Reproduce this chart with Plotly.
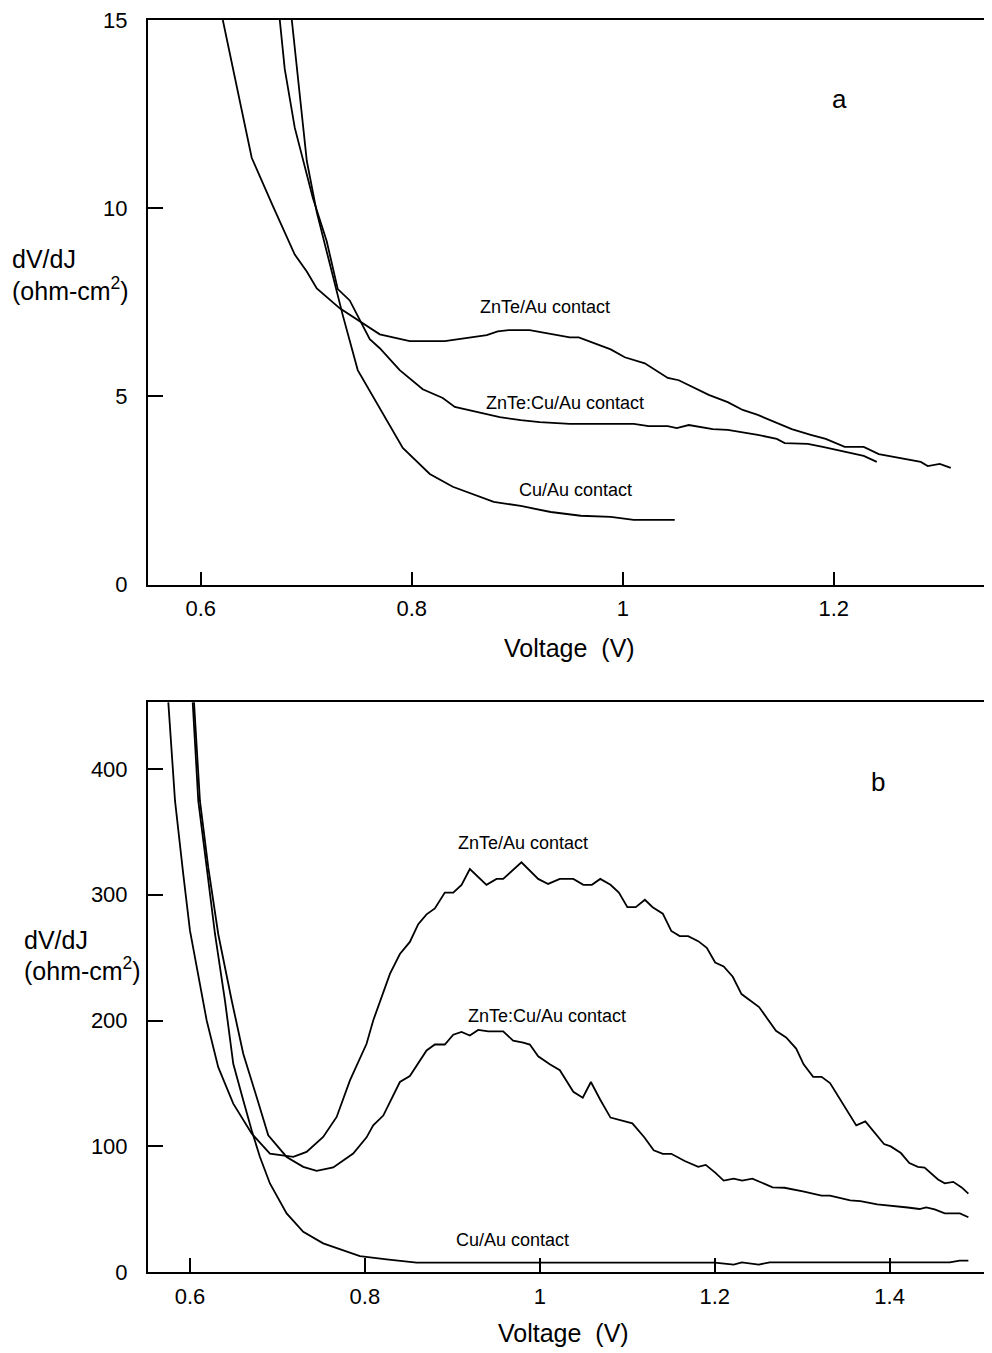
import plotly.graph_objects as go

# ---------------- Panel a data ----------------
a_znte_v = [0.6209, 0.6483, 0.6682, 0.6891, 0.7005, 0.7100, 0.7318, 0.7697, 0.7981, 0.8313,
            0.8711, 0.8815, 0.8919, 0.9118, 0.9498, 0.9583, 0.9886, 1.0019, 1.0209, 1.0427,
            1.0531, 1.0815, 1.0995, 1.1137, 1.1280, 1.1393, 1.1602, 1.1782, 1.1924, 1.2104,
            1.2284, 1.2427, 1.2682, 1.2825, 1.2891, 1.3005, 1.3109]
a_znte_r = [15.0, 11.34, 10.07, 8.77, 8.32, 7.87, 7.34, 6.65, 6.47, 6.47,
            6.63, 6.73, 6.76, 6.76, 6.57, 6.57, 6.25, 6.04, 5.88, 5.49,
            5.43, 5.04, 4.85, 4.64, 4.51, 4.37, 4.13, 3.98, 3.87, 3.66,
            3.66, 3.47, 3.34, 3.26, 3.15, 3.21, 3.10]

a_zncu_v = [0.6749, 0.6796, 0.6891, 0.7062, 0.7194, 0.7299, 0.7412, 0.7602, 0.7697, 0.7886,
            0.8104, 0.8294, 0.8408, 0.8531, 0.8834, 0.9033, 0.9213, 0.9498, 1.0104, 1.0246,
            1.0427, 1.0512, 1.0626, 1.0853, 1.0995, 1.1280, 1.1460, 1.1535, 1.1754, 1.1896,
            1.2104, 1.2284, 1.2408]
a_zncu_r = [15.0, 13.70, 12.14, 10.28, 9.12, 7.85, 7.55, 6.52, 6.28, 5.70,
            5.19, 4.96, 4.72, 4.64, 4.45, 4.37, 4.32, 4.27, 4.27, 4.21,
            4.21, 4.16, 4.24, 4.13, 4.11, 3.98, 3.87, 3.76, 3.74, 3.66,
            3.53, 3.42, 3.26]

a_cu_v = [0.6863, 0.6910, 0.7005, 0.7100, 0.7242, 0.7346, 0.7488, 0.7697, 0.7915, 0.8171,
          0.8389, 0.8777, 0.9033, 0.9318, 0.9602, 0.9886, 1.0104, 1.0493]
a_cu_r = [15.0, 13.81, 11.26, 9.89, 8.32, 7.16, 5.70, 4.69, 3.63, 2.94,
          2.60, 2.20, 2.09, 1.93, 1.83, 1.80, 1.72, 1.72]

# ---------------- Panel b data ----------------
b_znte_v = [0.5752, 0.5829, 0.5923, 0.6000, 0.6191, 0.6323, 0.6495, 0.6705, 0.6914, 0.7181,
            0.7333, 0.7523, 0.7677, 0.7829, 0.8019, 0.8095, 0.8286, 0.8400, 0.8514, 0.8610,
            0.8705, 0.8800, 0.8914, 0.9010, 0.9105, 0.9200, 0.9390, 0.9505, 0.9581, 0.9790,
            0.9981, 1.0095, 1.0229, 1.0383, 1.0498, 1.0595, 1.0691, 1.0808, 1.0904, 1.1001,
            1.1097, 1.1201, 1.1290, 1.1406, 1.1503, 1.1599, 1.1696, 1.1811, 1.1909, 1.2005,
            1.2102, 1.2206, 1.2306, 1.2507, 1.2700, 1.2816, 1.2931, 1.3016, 1.3125, 1.3221,
            1.3318, 1.3530, 1.3618, 1.3722, 1.3935, 1.4012, 1.4128, 1.4225, 1.4322, 1.4399,
            1.4553, 1.4630, 1.4727, 1.4823, 1.4900]
b_znte_r = [453.2, 374.6, 316.4, 271.4, 200.0, 162.9, 133.9, 110.1, 94.2, 91.5,
            95.5, 107.4, 123.3, 152.4, 181.5, 200.0, 237.1, 252.9, 262.5, 276.6,
            284.4, 289.1, 301.7, 301.7, 307.9, 320.5, 307.9, 312.6, 312.6, 325.8,
            312.6, 308.6, 312.6, 312.6, 307.9, 307.9, 312.6, 307.9, 301.7, 290.1,
            290.1, 296.0, 290.1, 285.0, 271.2, 267.1, 267.1, 263.1, 257.8, 246.1,
            243.0, 234.8, 221.0, 210.7, 191.8, 186.5, 177.7, 165.2, 155.2, 155.2,
            150.2, 126.0, 116.6, 119.8, 101.8, 99.9, 94.6, 86.7, 83.6, 83.0,
            73.6, 70.5, 71.7, 67.3, 62.3]

b_zncu_v = [0.6046, 0.6114, 0.6209, 0.6323, 0.6477, 0.6609, 0.6762, 0.6895, 0.7105, 0.7295,
            0.7448, 0.7638, 0.7866, 0.8019, 0.8095, 0.8210, 0.8400, 0.8514, 0.8705, 0.8800,
            0.8914, 0.9010, 0.9105, 0.9200, 0.9295, 0.9410, 0.9581, 0.9695, 0.9810, 0.9886,
            0.9981, 1.0114, 1.0229, 1.0383, 1.0491, 1.0584, 1.0691, 1.0808, 1.1058, 1.1194,
            1.1302, 1.1406, 1.1503, 1.1657, 1.1811, 1.1897, 1.2005, 1.2102, 1.2217, 1.2313,
            1.2430, 1.2545, 1.2661, 1.2797, 1.3008, 1.3221, 1.3318, 1.3549, 1.3665, 1.3858,
            1.4012, 1.4206, 1.4341, 1.4418, 1.4514, 1.4630, 1.4803, 1.4900]
b_zncu_r = [453.2, 374.6, 321.7, 268.8, 215.9, 173.6, 139.1, 108.7, 91.5, 83.6,
            80.4, 83.1, 94.2, 107.1, 116.6, 124.4, 151.1, 155.9, 176.2, 180.9,
            180.9, 188.7, 190.9, 188.1, 192.5, 191.3, 191.3, 184.0, 182.5, 180.9,
            171.5, 165.2, 160.5, 143.3, 138.6, 151.1, 137.0, 122.8, 118.2, 107.2,
            96.8, 94.0, 94.0, 88.3, 83.6, 85.2, 79.0, 72.7, 74.3, 72.7,
            74.3, 70.5, 67.3, 67.0, 64.2, 60.7, 60.7, 57.0, 56.3, 53.8,
            52.9, 51.3, 50.1, 51.3, 49.8, 46.6, 46.6, 43.5]

b_cu_v = [0.6031, 0.6095, 0.6191, 0.6286, 0.6400, 0.6495, 0.6609, 0.6705, 0.6800, 0.6914,
          0.7105, 0.7295, 0.7523, 0.7714, 0.7943, 0.8248, 0.8591, 1.2000, 1.2217, 1.2309,
          1.2503, 1.2629, 1.4686, 1.4800, 1.4900]
b_cu_r = [453.2, 374.6, 321.7, 268.8, 215.9, 165.6, 136.5, 112.7, 91.5, 70.4,
          46.6, 32.0, 22.8, 18.0, 12.7, 10.1, 7.4, 7.5, 5.9, 7.7,
          5.9, 7.7, 7.7, 9.1, 9.1]

a_xticks = [0.6, 0.8, 1.0, 1.2]
a_xticktext = ["0.6", "0.8", "1", "1.2"]
a_yticks = [0, 5, 10, 15]
b_xticks = [0.6, 0.8, 1.0, 1.2, 1.4]
b_xticktext = ["0.6", "0.8", "1", "1.2", "1.4"]
b_yticks = [0, 100, 200, 300, 400]

FONT = "Liberation Sans, Arial, sans-serif"
line = dict(color="black", width=1.8)

fig = go.Figure()
for v, r in [(a_znte_v, a_znte_r), (a_zncu_v, a_zncu_r), (a_cu_v, a_cu_r)]:
    fig.add_trace(go.Scatter(x=v, y=r, mode="lines", line=line, xaxis="x", yaxis="y",
                             showlegend=False, hoverinfo="skip"))
for v, r in [(b_znte_v, b_znte_r), (b_zncu_v, b_zncu_r), (b_cu_v, b_cu_r)]:
    fig.add_trace(go.Scatter(x=v, y=r, mode="lines", line=line, xaxis="x2", yaxis="y2",
                             showlegend=False, hoverinfo="skip"))

axis_common = dict(showline=True, linecolor="black", linewidth=2, ticks="inside",
                   tickwidth=1.5, tickcolor="black", showgrid=False, zeroline=False,
                   ticklabeloverflow="allow",
                   tickfont=dict(family=FONT, size=22, color="black"))

# page body has an 8px margin; the figure is offset by it
W, H = 984, 1345
top_m, bot_m, left_m = 9, 81, 140
ph = H - top_m - bot_m          # 1255 px of plot height
pw = W - left_m                 # 844 px of plot width
def py(p):                      # window pixel y -> paper y
    return (1272 - p) / ph
def px(p):                      # window pixel x -> paper x
    return (p - 148) / pw

fig.update_layout(
    width=W, height=H,
    margin=dict(l=left_m, r=0, t=top_m, b=bot_m),
    paper_bgcolor="white", plot_bgcolor="white",
    font=dict(family=FONT, color="black"),
    xaxis=dict(axis_common, domain=[0, 1], anchor="y", range=[0.55, 1.35], mirror=True,
               tickvals=a_xticks, ticktext=a_xticktext, ticklen=13, ticklabelstandoff=3),
    yaxis=dict(axis_common, domain=[py(583), 1], anchor="x", range=[0, 15],
               tickvals=a_yticks, ticklen=15, ticklabelstandoff=14),
    xaxis2=dict(axis_common, domain=[0, 1], anchor="y2", range=[0.552, 1.517], mirror=True,
                tickvals=b_xticks, ticktext=b_xticktext, ticklen=14, ticklabelstandoff=4),
    yaxis2=dict(axis_common, domain=[0, py(701)], anchor="x2", range=[0, 453],
                tickvals=b_yticks, ticklen=15, ticklabelstandoff=14),
)

ann = []
def txt(x, y, s, size, xref, yref, xanchor="center"):
    ann.append(dict(x=x, y=y, text=s, xref=xref, yref=yref, showarrow=False,
                    xanchor=xanchor, yanchor="middle",
                    font=dict(family=FONT, size=size, color="black")))

# panel a labels
txt(0.926, 7.37, "ZnTe/Au contact", 18, "x", "y")
txt(0.945, 4.82, "ZnTe:Cu/Au contact", 18, "x", "y")
txt(0.955, 2.52, "Cu/Au contact", 18, "x", "y")
txt(1.2057, 12.9, "a", 26, "x", "y")
# panel b labels
txt(0.9806, 341.3, "ZnTe/Au contact", 18, "x2", "y2")
txt(1.008, 203.2, "ZnTe:Cu/Au contact", 18, "x2", "y2")
txt(0.969, 25.4, "Cu/Au contact", 18, "x2", "y2")
txt(1.3863, 389.7, "b", 26, "x2", "y2")

# axis titles
txt(px(569), py(647), "Voltage \u00a0(V)", 25, "paper", "paper")
txt(px(563), py(1333), "Voltage \u00a0(V)", 25, "paper", "paper")
txt(px(10), py(257), "dV/dJ", 25, "paper", "paper", "left")
txt(px(10), py(287), "(ohm-cm<sup>2</sup>)", 25, "paper", "paper", "left")
txt(px(22), py(939), "dV/dJ", 25, "paper", "paper", "left")
txt(px(22), py(968), "(ohm-cm<sup>2</sup>)", 25, "paper", "paper", "left")

fig.update_layout(annotations=ann)
fig.write_html("out.html")
